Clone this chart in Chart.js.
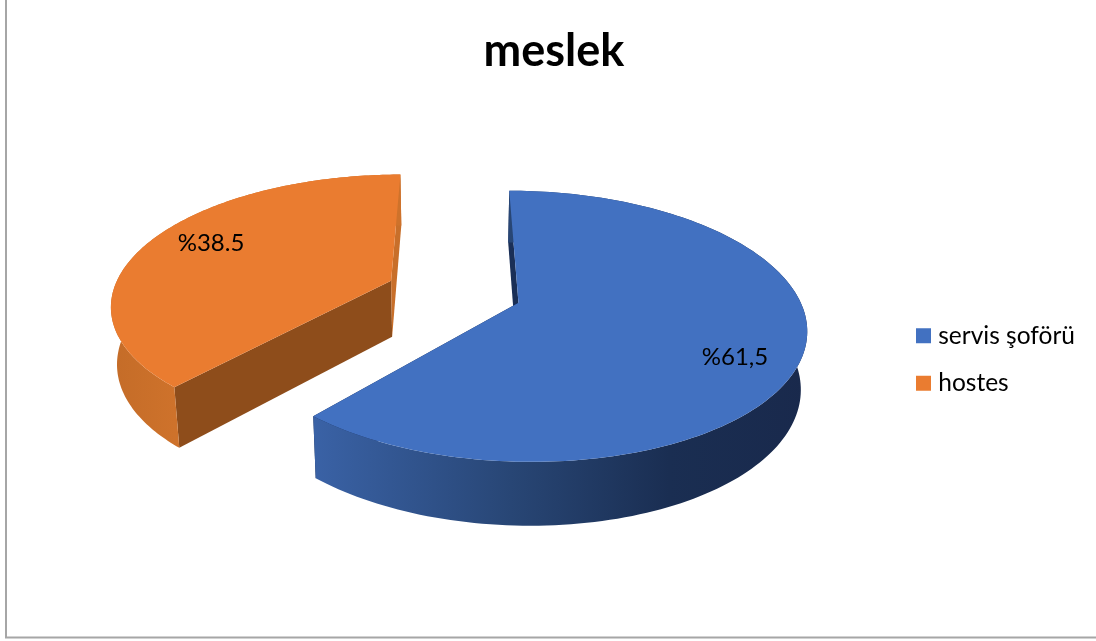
<!DOCTYPE html>
<html>
<head>
<meta charset="utf-8">
<title>meslek</title>
<script src="https://cdn.jsdelivr.net/npm/chart.js@4"></script>
<style>
  html, body { margin: 0; padding: 0; background: #fff; }
  canvas { display: block; }
</style>
</head>
<body>
<canvas id="chart" width="1096" height="641"></canvas>
<script>
const categories = ['servis şoförü', 'hostes'];
const shares = [61.5, 38.5];
const shareLabels = ['%61,5', '%38.5'];

const sliceColors = ['#4271c1', '#ea7c30'];
const cutColors = [['#1a2f57', '#16264a'], ['#8e4d1b', '#c86f2a']];
const rimStops = [
    [[0, '#3a62a6'], [0.4, '#284675'], [0.72, '#1a2e52'], [1, '#19294c']],
    [[0, '#c46c28'], [1, '#ce722b']]
];
const labelSpots = [[735, 357], [211, 243]];

// Table-top view of the pie: tilt, perspective and thickness
const view = {
    x: 456, y: 292, radius: 284,
    xScale: 0.98, tilt: 0.45, persp: 0.0006,
    depth: 56.5, sinkX: 450, sink: 0.018
};

function project(px, py, z) {
    const w = 1 - view.persp * py;
    let x = view.x + view.xScale * px / w;
    const y = view.y + view.tilt * py / w + z * view.depth / Math.pow(w, 0.6);
    x += (view.sinkX - x) * view.sink * z;
    return [x, y];
}

function trace(ctx, pts) {
    ctx.beginPath();
    pts.forEach((p, i) => (i ? ctx.lineTo(p[0], p[1]) : ctx.moveTo(p[0], p[1])));
    ctx.closePath();
}

function drawSlice(ctx, arc, index) {
    const s = view.radius / arc.outerRadius;
    const r = view.radius;
    const mid = (arc.startAngle + arc.endAngle) / 2;
    const ox = Math.cos(mid) * arc.options.offset * s;
    const oy = Math.sin(mid) * arc.options.offset * s;

    const rim = [];
    const steps = 160;
    for (let i = 0; i <= steps; i++) {
        const a = arc.startAngle + (arc.endAngle - arc.startAngle) * i / steps;
        rim.push([ox + Math.cos(a) * r, oy + Math.sin(a) * r]);
    }
    const first = rim[0];
    const last = rim[steps];
    const face = (a, b) => [project(a[0], a[1], 0), project(b[0], b[1], 0),
                            project(b[0], b[1], 1), project(a[0], a[1], 1)];

    // cut faces first, the top surface hides the far ones
    ctx.fillStyle = cutColors[index][0];
    trace(ctx, face([ox, oy], first));
    ctx.fill();
    ctx.fillStyle = cutColors[index][1];
    trace(ctx, face([ox, oy], last));
    ctx.fill();

    // outer wall
    const wall = rim.map(p => project(p[0], p[1], 0))
        .concat(rim.slice().reverse().map(p => project(p[0], p[1], 1)));
    const front = rim.filter(p => p[1] > oy - 40).map(p => project(p[0], p[1], 0)[0]);
    const grad = ctx.createLinearGradient(Math.min(...front), 0, Math.max(...front), 0);
    rimStops[index].forEach(st => grad.addColorStop(st[0], st[1]));
    ctx.fillStyle = grad;
    trace(ctx, wall);
    ctx.fill();

    // top surface
    ctx.fillStyle = arc.options.backgroundColor;
    trace(ctx, [project(ox, oy, 0)].concat(rim.map(p => project(p[0], p[1], 0))));
    ctx.fill();
}

const tiltedPie = {
    id: 'tiltedPie',
    beforeDraw(chart) {
        const ctx = chart.ctx;
        ctx.save();
        ctx.strokeStyle = '#a6a6a6';
        ctx.lineWidth = 2;
        ctx.beginPath();
        ctx.moveTo(6, 0);
        ctx.lineTo(6, 637.5);
        ctx.lineTo(1096, 637.5);
        ctx.stroke();
        ctx.restore();
    },
    beforeDatasetDraw(chart, args) {
        const ctx = chart.ctx;
        ctx.save();
        args.meta.data.forEach((arc, i) => drawSlice(ctx, arc, i));
        ctx.font = '24px Lato';
        ctx.fillStyle = '#000';
        ctx.textAlign = 'center';
        ctx.textBaseline = 'middle';
        shareLabels.forEach((t, i) => ctx.fillText(t, labelSpots[i][0], labelSpots[i][1]));
        ctx.restore();
        return false;
    }
};

new Chart(document.getElementById('chart'), {
    type: 'pie',
    data: {
        labels: categories,
        datasets: [{
            data: shares,
            backgroundColor: sliceColors,
            borderWidth: 0,
            offset: [57, 61]
        }]
    },
    options: {
        responsive: false,
        animation: false,
        layout: { padding: { left: 23, right: 11, bottom: 10 } },
        plugins: {
            title: {
                display: true,
                text: 'meslek',
                color: '#000',
                font: { family: 'Lato', size: 45, weight: 'bold' },
                padding: { top: 24, bottom: 10 }
            },
            legend: {
                position: 'right',
                fullSize: false,
                labels: {
                    color: '#000',
                    font: { family: 'Lato', size: 24.5 },
                    usePointStyle: true,
                    pointStyle: 'rect',
                    boxWidth: 5,
                    boxHeight: 15,
                    padding: 23
                }
            },
            tooltip: { enabled: false }
        }
    },
    plugins: [tiltedPie]
});
</script>
</body>
</html>
